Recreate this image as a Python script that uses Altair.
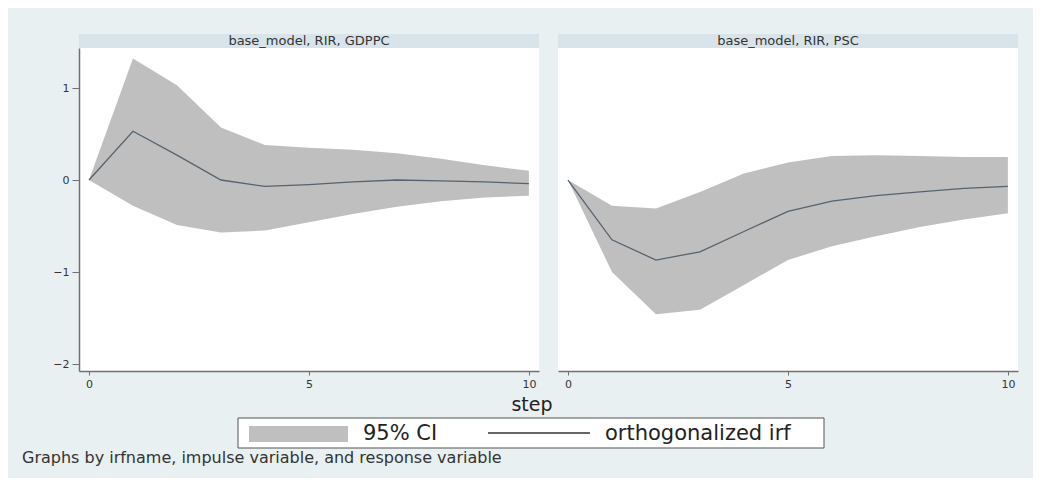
import altair as alt
import pandas as pd

# ---- data ----
steps = [0, 1, 2, 3, 4, 5, 6, 7, 8, 9, 10]

gdppc_irf = [0, 0.53, 0.27, 0.0, -0.07, -0.05, -0.02, 0.0, -0.01, -0.02, -0.04]
gdppc_lo = [0, -0.28, -0.49, -0.57, -0.55, -0.46, -0.37, -0.29, -0.23, -0.19, -0.17]
gdppc_hi = [0, 1.32, 1.03, 0.57, 0.38, 0.35, 0.33, 0.29, 0.23, 0.16, 0.10]

psc_irf = [0, -0.65, -0.87, -0.78, -0.56, -0.34, -0.23, -0.17, -0.13, -0.09, -0.07]
psc_lo = [0, -1.0, -1.46, -1.41, -1.14, -0.87, -0.72, -0.61, -0.51, -0.43, -0.36]
psc_hi = [0, -0.28, -0.31, -0.13, 0.07, 0.19, 0.26, 0.27, 0.26, 0.25, 0.25]

panel_titles = ["base_model, RIR, GDPPC", "base_model, RIR, PSC"]
x_ticks = [0, 5, 10]
y_ticks = [-2, -1, 0, 1]
x_title = ["step"]
legend_labels = ["95% CI", "orthogonalized irf"]
note = ["Graphs by irfname, impulse variable, and response variable"]

FONT = "DejaVu Sans"
W, H = 460, 323
BG = "#e8f0f2"
STRIP = "#d8e4e9"
CI_FILL = "#bfbfbf"
LINE = "#56636f"

xscale = alt.Scale(domain=[-0.227, 10.23], nice=False, zero=False)
yscale = alt.Scale(domain=[-2.076, 1.435], nice=False, zero=False)


def panel(title, irf, lo, hi, show_y):
    df = pd.DataFrame({"step": steps, "irf": irf, "lo": lo, "hi": hi})
    base = alt.Chart(df)
    xax = alt.Axis(values=x_ticks, title=None, tickSize=4, labelPadding=3,
                   labelFlush=False, grid=False, format="d")
    if show_y:
        yenc = alt.Y("lo:Q", scale=yscale,
                     axis=alt.Axis(values=y_ticks, title=None, tickSize=7,
                                   labelPadding=3, grid=False, labelAngle=0,
                                   format="d"))
    else:
        yenc = alt.Y("lo:Q", scale=yscale, axis=None)
    area = base.mark_area(color=CI_FILL, opacity=1).encode(
        x=alt.X("step:Q", scale=xscale, axis=xax),
        y=yenc,
        y2="hi:Q",
    )
    line = base.mark_line(color=LINE, strokeWidth=1.3).encode(
        x=alt.X("step:Q", scale=xscale),
        y=alt.Y("irf:Q", scale=yscale),
    )
    tdf = alt.Chart(pd.DataFrame({"t": [title]}))
    strip = tdf.mark_rect(color=STRIP).encode(
        x=alt.value(0), x2=alt.value(W), y=alt.value(-14), y2=alt.value(0)
    )
    stext = tdf.mark_text(font=FONT, fontSize=13, color="#333333",
                          baseline="middle", align="center").encode(
        x=alt.value(W / 2), y=alt.value(-7), text="t:N"
    )
    return [strip, stext, area, line]


left_layers = panel(panel_titles[0], gdppc_irf, gdppc_lo, gdppc_hi, True)
right_layers = panel(panel_titles[1], psc_irf, psc_lo, psc_hi, False)

# footer (x title, legend, note) drawn in the left panel's pixel frame
one = pd.DataFrame({"k": [0]})
step_txt = alt.Chart(pd.DataFrame({"t": x_title})).mark_text(
    font=FONT, fontSize=19, color="#222222", align="center", baseline="middle"
).encode(x=alt.value(453), y=alt.value(357), text="t:N")
leg_box = alt.Chart(one).mark_rect(fill="white", stroke="#555555", strokeWidth=1).encode(
    x=alt.value(159), x2=alt.value(745), y=alt.value(370), y2=alt.value(400)
)
leg_swatch = alt.Chart(one).mark_rect(fill=CI_FILL).encode(
    x=alt.value(170), x2=alt.value(269), y=alt.value(378), y2=alt.value(394)
)
leg_t1 = alt.Chart(pd.DataFrame({"t": [legend_labels[0]]})).mark_text(
    font=FONT, fontSize=21, color="#222222", align="left", baseline="middle"
).encode(x=alt.value(284), y=alt.value(386), text="t:N")
leg_line = alt.Chart(one).mark_rule(color="#333333", strokeWidth=1.3).encode(
    x=alt.value(409), x2=alt.value(511), y=alt.value(385)
)
leg_t2 = alt.Chart(pd.DataFrame({"t": [legend_labels[1]]})).mark_text(
    font=FONT, fontSize=21, color="#222222", align="left", baseline="middle"
).encode(x=alt.value(526), y=alt.value(386), text="t:N")
note_txt = alt.Chart(pd.DataFrame({"t": note})).mark_text(
    font=FONT, fontSize=16, color="#333333", align="left", baseline="middle"
).encode(x=alt.value(-57), y=alt.value(410), text="t:N")

left = alt.layer(*left_layers, step_txt, leg_box, leg_swatch, leg_t1, leg_line,
                 leg_t2, note_txt).properties(
    width=W, height=H, view=alt.ViewBackground(fill="white", stroke=None))
right = alt.layer(*right_layers).properties(
    width=W, height=H, view=alt.ViewBackground(fill="white", stroke=None))

chart = alt.hconcat(left, right, spacing=19, bounds="flush").properties(
    padding={"left": 14, "top": 26, "right": 15, "bottom": 12},
    background=BG,
).configure_axis(
    labelFont=FONT, labelFontSize=11, labelColor="#333333",
    domainColor="#707070", tickColor="#707070", domainWidth=1.5,
).configure_view(stroke=None)

chart.save("out.html", embed_options={"renderer": "svg", "actions": False})
